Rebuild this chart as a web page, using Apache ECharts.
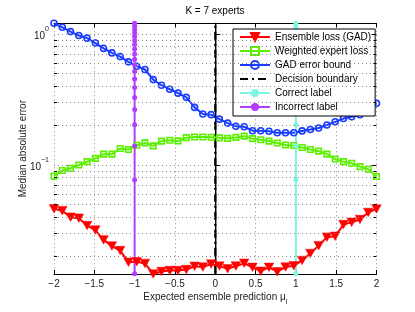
<!DOCTYPE html>
<html><head><meta charset="utf-8">
<script src="https://cdn.jsdelivr.net/npm/echarts@6.0.0/dist/echarts.min.js"></script>
<style>html,body{margin:0;padding:0;background:#fff}#c{width:415px;height:312px}</style>
</head><body><div id="c"></div>
<script>
// ---- data ----
const xs = [-2, -1.897, -1.795, -1.692, -1.590, -1.487, -1.385, -1.282, -1.179, -1.077,
  -0.974, -0.872, -0.769, -0.667, -0.564, -0.462, -0.359, -0.256, -0.154, -0.051,
  0.051, 0.154, 0.256, 0.359, 0.462, 0.564, 0.667, 0.769, 0.872, 0.974,
  1.077, 1.179, 1.282, 1.385, 1.487, 1.590, 1.692, 1.795, 1.897, 2];
const ensembleLoss = [0.04636, 0.04478, 0.04000, 0.03932, 0.03451, 0.03193, 0.02685, 0.02410, 0.02226, 0.01816,
  0.01832, 0.01776, 0.01475, 0.01540, 0.01568, 0.01568, 0.01595, 0.01689, 0.01666, 0.01755,
  0.01695, 0.01617, 0.01695, 0.01779, 0.01657, 0.01549, 0.01657, 0.01535, 0.01666, 0.01703,
  0.01871, 0.02113, 0.02427, 0.02818, 0.02862, 0.03512, 0.03655, 0.03844, 0.04348, 0.04620];
const weightedExpertLoss = [0.0822, 0.0907, 0.0944, 0.1000, 0.1061, 0.1123, 0.1210, 0.1210, 0.1336, 0.1313,
  0.1415, 0.1475, 0.1400, 0.1522, 0.1543, 0.1527, 0.1617, 0.1637, 0.1637, 0.1626,
  0.1611, 0.1597, 0.1623, 0.1660, 0.1589, 0.1557, 0.1522, 0.1470, 0.1420, 0.1408,
  0.1360, 0.1313, 0.1275, 0.1210, 0.1110, 0.1061, 0.1030, 0.0972, 0.0928, 0.0818];
const gadErrorBound = [1.204, 1.123, 1.041, 0.971, 0.928, 0.851, 0.775, 0.716, 0.671, 0.612,
  0.567, 0.535, 0.448, 0.406, 0.378, 0.353, 0.328, 0.275, 0.245, 0.242,
  0.2238, 0.2087, 0.1971, 0.1957, 0.1826, 0.1826, 0.1810, 0.1764, 0.1764, 0.1764,
  0.1820, 0.1864, 0.1917, 0.2019, 0.2135, 0.2260, 0.2335, 0.2418, 0.2652, 0.2953];
const labelLineY = [0.0148, 0.0773, 0.1399, 0.2025, 0.2651, 0.3277, 0.3903, 0.4529, 0.5155, 0.5781,
  0.6407, 0.7032, 0.7658, 0.8284, 0.8910, 0.9536, 1.0162, 1.0788, 1.1414, 1.2040];
const boundaryY = [0.0148, 1.2040];
const boundaryX = 0, correctX = 1, incorrectX = -1;
const seriesNames = ['Ensemble loss (GAD)', 'Weighted expert loss', 'GAD error bound',
  'Decision boundary', 'Correct label', 'Incorrect label'];
const xTickLabels = ['\u22122', '\u22121.5', '\u22121', '\u22120.5', '0', '0.5', '1', '1.5', '2'];
const titleText = 'K = 7 experts';
const xName = 'Expected ensemble prediction \u03bc';
const yName = 'Median absolute error';

// ---- settings ----
const yMin = 0.01475, yMax = 1.204;
const FONT = 'Liberation Sans, Arial, Helvetica, sans-serif';
const C = {red:'#ff0000', green:'#5cf000', blue:'#1a3cff', black:'#000000', cyan:'#7ff5df', mag:'#b33cff'};

const minorVals = [];
for (let k = -2; k <= 0; k++) for (let m = 2; m <= 9; m++) {
  const v = m * Math.pow(10, k);
  if (v > yMin && v < yMax) minorVals.push(v);
}
const gridLines = minorVals.map(v => ({yAxis: v}));
const tickSegs = [];
minorVals.forEach(v => {
  tickSegs.push([{coord: [-2, v]}, {coord: [-1.962, v]}]);
  tickSegs.push([{coord: [1.962, v]}, {coord: [2, v]}]);
});
[0.1, 1].forEach(v => {
  tickSegs.push([{coord: [1.94, v]}, {coord: [2, v]}]);
});

const pair = (xarr, yarr) => yarr.map((y, i) => [Array.isArray(xarr) ? xarr[i] : xarr, y]);

const chart = echarts.init(document.getElementById('c'), null, {renderer: 'canvas'});
chart.setOption({
  animation: false,
  backgroundColor: '#fff',
  textStyle: {fontFamily: FONT},
  title: {text: titleText, left: 215, top: 6, textAlign: 'center', padding: 0,
    textStyle: {fontSize: 10, fontWeight: 'normal', color: '#000', fontFamily: FONT}},
  grid: {left: 54, right: 38.5, top: 23.3, bottom: 34.7},
  legend: {
    orient: 'vertical', left: 233, top: 29, padding: [2, 4, 3, 6],
    itemWidth: 30, itemHeight: 10, itemGap: 2,
    backgroundColor: '#fff', borderColor: '#000', borderWidth: 1, borderRadius: 0,
    textStyle: {fontSize: 10, color: '#000', fontFamily: FONT, lineHeight: 12},
    data: [
      {name: seriesNames[0]}, {name: seriesNames[1]}, {name: seriesNames[2]},
      {name: seriesNames[3], itemStyle: {color: 'rgba(0,0,0,0)', borderWidth: 0}},
      {name: seriesNames[4]}, {name: seriesNames[5]}
    ]
  },
  xAxis: [{
    type: 'value', min: -2, max: 2, interval: 0.5, position: 'bottom',
    axisLine: {show: true, lineStyle: {color: '#000', width: 1}},
    axisTick: {show: true, inside: true, length: 4, lineStyle: {color: '#000'}},
    axisLabel: {margin: 5, fontSize: 10, color: '#222', fontFamily: FONT,
      formatter: v => xTickLabels[Math.round((v + 2) * 2)]},
    splitLine: {show: true, lineStyle: {color: '#8c8c8c', width: 1, type: [1, 3]}},
    name: '{m|' + xName + '}{sub|l}', nameLocation: 'middle', nameGap: 19.5,
    nameMoveOverlap: false,
    nameTextStyle: {rich: {
      m: {fontSize: 10, color: '#222', fontFamily: FONT, lineHeight: 12, padding: [0, 0, 4, 0]},
      sub: {fontSize: 7, color: '#222', fontFamily: FONT, lineHeight: 8, padding: [7, 0, 1, 0]}
    }}
  }, {
    type: 'value', min: -2, max: 2, interval: 0.5, position: 'top',
    axisLine: {show: true, lineStyle: {color: '#000', width: 1}},
    axisTick: {show: true, inside: true, length: 4, lineStyle: {color: '#000'}},
    axisLabel: {show: false}, splitLine: {show: false}
  }],
  yAxis: [{
    type: 'log', logBase: 10, min: yMin, max: yMax, position: 'left',
    axisLine: {show: true, lineStyle: {color: '#6b6b6b', width: 1.5}},
    axisTick: {show: true, inside: true, length: 5, lineStyle: {color: '#000'}},
    axisLabel: {margin: 5, showMinLabel: false, showMaxLabel: false,
      formatter: v => {
        const e = Math.log10(v);
        if (Math.abs(e - Math.round(e)) > 1e-6) return '';
        const n = Math.round(e);
        return '{b|10}{s|' + (n < 0 ? '\u2212' : '') + Math.abs(n) + '}';
      },
      rich: {
        b: {fontSize: 10, color: '#222', fontFamily: FONT, lineHeight: 12, padding: [5, 0, 0, 0]},
        s: {fontSize: 7, color: '#222', fontFamily: FONT, lineHeight: 8, padding: [0, 0, 9, 0]}
      }},
    splitLine: {show: true, lineStyle: {color: '#8c8c8c', width: 1, type: [1, 3]}},
    name: yName, nameLocation: 'middle', nameGap: 26, nameMoveOverlap: false,
    nameTextStyle: {fontSize: 10, color: '#222', fontFamily: FONT}
  }, {
    type: 'log', logBase: 10, min: yMin, max: yMax, position: 'right',
    axisLine: {show: true, lineStyle: {color: '#000', width: 1}},
    axisTick: {show: false}, axisLabel: {show: false}, splitLine: {show: false}
  }],
  series: [
    {
      name: '_grid', type: 'line', data: [[-2, yMin]], symbol: 'none', silent: true,
      lineStyle: {opacity: 0}, z: 1,
      markLine: {silent: true, symbol: 'none', animation: false, label: {show: false},
        lineStyle: {color: '#8c8c8c', width: 1, type: [1, 3]},
        data: gridLines.concat(tickSegs.map(s => [
          Object.assign({}, s[0], {lineStyle: {color: '#000', type: 'solid', width: 1}}),
          s[1]]))}
    },
    {
      name: seriesNames[0], type: 'line', data: pair(xs, ensembleLoss), z: 3,
      symbol: 'triangle', symbolRotate: 180, symbolSize: [9.5, 8.5],
      lineStyle: {color: C.red, width: 2}, itemStyle: {color: C.red, borderColor: C.red, borderWidth: 0.5}
    },
    {
      name: seriesNames[1], type: 'line', data: pair(xs, weightedExpertLoss), z: 3,
      symbol: 'rect', symbolSize: 5.5,
      lineStyle: {color: C.green, width: 2},
      itemStyle: {color: 'rgba(255,255,255,0)', borderColor: C.green, borderWidth: 1.6}
    },
    {
      name: seriesNames[2], type: 'line', data: pair(xs, gadErrorBound), z: 3,
      symbol: 'circle', symbolSize: 6,
      lineStyle: {color: C.blue, width: 2},
      itemStyle: {color: 'rgba(255,255,255,0)', borderColor: C.blue, borderWidth: 1.6}
    },
    {
      name: seriesNames[3], type: 'line', data: pair(boundaryX, boundaryY), z: 3,
      symbol: 'none',
      lineStyle: {color: C.black, width: 2.2, type: [8, 4, 2, 4]},
      itemStyle: {color: C.black}
    },
    {
      name: seriesNames[4], type: 'line', data: pair(correctX, labelLineY), z: 3,
      symbol: 'circle', symbolSize: 5,
      lineStyle: {color: C.cyan, width: 2}, itemStyle: {color: C.cyan}
    },
    {
      name: seriesNames[5], type: 'line', data: pair(incorrectX, labelLineY), z: 3,
      symbol: 'circle', symbolSize: 5,
      lineStyle: {color: C.mag, width: 2}, itemStyle: {color: C.mag}
    }
  ]
});
</script>
</body></html>
